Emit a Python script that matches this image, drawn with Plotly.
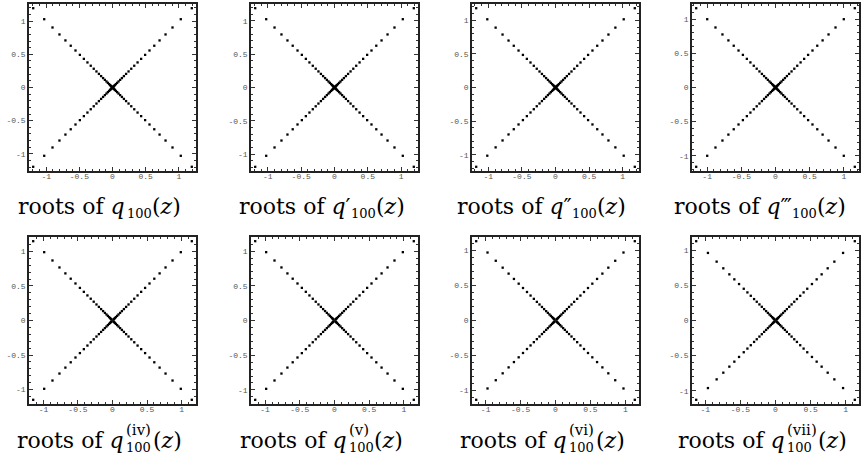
import plotly.graph_objects as go

# distance from the origin of the roots on one arm of the X (same on all four arms)
arm_q0 = [1.196, 1.030, 0.905, 0.800, 0.710, 0.630, 0.558, 0.492, 0.432, 0.378, 0.328, 0.283, 0.242,
          0.205, 0.172, 0.142, 0.115, 0.091, 0.070, 0.052, 0.037, 0.025, 0.015, 0.008, 0.003]
arm_q1 = [1.190, 1.025, 0.900, 0.796, 0.706, 0.627, 0.555, 0.490, 0.430, 0.376, 0.326, 0.282, 0.241,
          0.204, 0.171, 0.141, 0.114, 0.090, 0.070, 0.052, 0.037, 0.025, 0.015, 0.008]
arm_q2 = [1.180, 1.015, 0.891, 0.788, 0.699, 0.621, 0.550, 0.485, 0.426, 0.372, 0.323, 0.279, 0.238,
          0.202, 0.169, 0.140, 0.113, 0.090, 0.069, 0.051, 0.036, 0.024, 0.014, 0.007]
arm_q3 = [1.160, 0.999, 0.878, 0.776, 0.689, 0.611, 0.541, 0.477, 0.419, 0.367, 0.318, 0.275, 0.235,
          0.199, 0.167, 0.138, 0.112, 0.088, 0.068, 0.050, 0.036, 0.024, 0.014, 0.007]
arm_q4 = [1.148, 0.989, 0.869, 0.768, 0.682, 0.605, 0.536, 0.472, 0.415, 0.363, 0.315, 0.272, 0.232,
          0.197, 0.165, 0.136, 0.110, 0.087, 0.067, 0.050, 0.036, 0.024, 0.014]
arm_q5 = [1.142, 0.984, 0.864, 0.764, 0.678, 0.602, 0.533, 0.470, 0.413, 0.361, 0.313, 0.270, 0.231,
          0.196, 0.164, 0.136, 0.110, 0.087, 0.067, 0.050, 0.035, 0.024, 0.014]
arm_q6 = [1.135, 0.973, 0.855, 0.756, 0.671, 0.595, 0.527, 0.465, 0.408, 0.357, 0.310, 0.267, 0.229,
          0.194, 0.163, 0.134, 0.109, 0.086, 0.066, 0.049, 0.035, 0.024, 0.014]
arm_q7 = [1.129, 0.962, 0.838, 0.743, 0.657, 0.586, 0.519, 0.452, 0.400, 0.352, 0.305, 0.267, 0.229,
          0.195, 0.162, 0.134, 0.108, 0.085, 0.065, 0.048, 0.034, 0.023, 0.013]

panel_arms = [arm_q0, arm_q1, arm_q2, arm_q3, arm_q4, arm_q5, arm_q6, arm_q7]
derivative_marks = ["", "\u2032", "\u2033", "\u2034", "(iv)", "(v)", "(vi)", "(vii)"]

tick_vals = [-1, -0.5, 0, 0.5, 1]
tick_text = ["-1", "-0.5", "0", "0.5", "1"]

W, H = 865, 470
col_left = [29, 251, 472, 692]
row_top = [4, 237]
box = 167
label_mid = [206, 440]

SERIF = "DejaVu Serif"
MAIN = 22
SUB = 13
SUP = 15
PRIMES = "\u2032\u2033\u2034"
char_w = {"(": 0.39, ")": 0.39, "i": 0.32, "v": 0.59, "0": 0.636, "1": 0.636}


def text_width(s, size):
  return sum(char_w.get(ch, 0.6) for ch in s) * size


def add_label(fig, cx, cy, mark):
  is_prime = bool(mark) and mark[0] in PRIMES
  sup_w = text_width(mark, SUP) if (mark and not is_prime) else 0
  w = max(text_width("100", SUB), sup_w) + 1
  main_w = 5.26 * MAIN
  tail_w = 1.35 * MAIN
  xa = cx - 17 - (w + tail_w - main_w) / 2

  main_text = "roots of <i>q</i>"
  tuck = 0
  if is_prime:
    # primes sit on the q itself; the subscript follows them
    main_text += f"<span style='font-family:DejaVu Sans'>{mark}</span>"
    xa += 2 + 2 * len(mark)
    tuck = -2

  common = dict(xref = "paper", yref = "paper", y = 1 - cy / H, yanchor = "middle",
                showarrow = False, borderpad = 0)
  fig.add_annotation(text = main_text, x = xa / W, xanchor = "right",
                     font = dict(family = SERIF, size = MAIN, color = "black"), **common)
  fig.add_annotation(text = "100", x = xa / W, xanchor = "left", yshift = -7, xshift = tuck,
                     font = dict(family = SERIF, size = SUB, color = "black"), **common)
  if mark and not is_prime:
    fig.add_annotation(text = mark, x = xa / W, xanchor = "left", yshift = 10,
                       font = dict(family = SERIF, size = SUP, color = "black"), **common)
  fig.add_annotation(text = "(<i>z</i>)", x = xa / W, xanchor = "left", xshift = w + tuck,
                     font = dict(family = SERIF, size = MAIN, color = "black"), **common)


fig = go.Figure()

for i, arm in enumerate(panel_arms):
  n = i + 1
  r, c = divmod(i, 4)
  neg = [-a for a in arm]
  xs = neg + arm + neg + arm
  ys = arm + arm + neg + neg

  fig.add_trace(go.Scatter(x = xs, y = ys, mode = "markers",
                           marker = dict(symbol = "square", size = 2.3, color = "black", line_width = 0),
                           xaxis = f"x{n}", yaxis = f"y{n}", showlegend = False, hoverinfo = "skip"))

  lim = arm[0] * 1.053
  axis = dict(range = [-lim, lim], showgrid = False, zeroline = False,
              showline = True, linecolor = "#222", linewidth = 1.5, mirror = "allticks",
              ticks = "inside", ticklen = 4, tickwidth = 1, tickcolor = "#333",
              tickmode = "array", tickvals = tick_vals, ticktext = tick_text,
              tickfont = dict(family = "Liberation Mono", size = 8, color = "#555"),
              minor = dict(ticks = "inside", ticklen = 2, tickwidth = 1, tickcolor = "#333",
                           tickmode = "linear", tick0 = 0, dtick = 0.1, showgrid = False),
              fixedrange = True)

  x0 = col_left[c]
  y0 = row_top[r]
  fig.update_layout(**{
    f"xaxis{n}": dict(axis, domain = [x0 / W, (x0 + box) / W], anchor = f"y{n}",
                      ticklabelstandoff = -3),
    f"yaxis{n}": dict(axis, domain = [1 - (y0 + box) / H, 1 - y0 / H], anchor = f"x{n}"),
  })

  add_label(fig, x0 + box / 2, label_mid[r], derivative_marks[i])

fig.update_layout(width = W, height = H, margin = dict(l = 0, r = 0, t = 0, b = 0),
                  paper_bgcolor = "white", plot_bgcolor = "white")

# the page's default body margin would push the figure 8px off the window corner
fig.write_html("out.html", config = {"displayModeBar": False},
               post_script = "document.body.style.margin = '0px';")
